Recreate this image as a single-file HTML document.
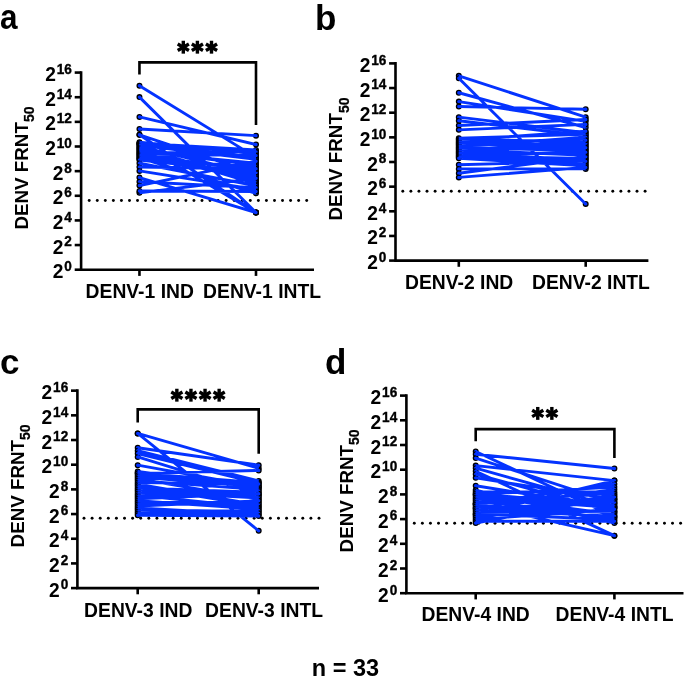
<!DOCTYPE html>
<html><head><meta charset="utf-8"><style>
html,body{margin:0;padding:0;background:#fff;overflow:hidden;width:685px;height:687px;}
svg{display:block;will-change:transform;}
text{font-family:"Liberation Sans", sans-serif;fill:#000;}
</style></head><body>
<svg width="685" height="687" viewBox="0 0 685 687">
<rect width="685" height="687" fill="#fff"/>
<text transform="translate(0,29.3) scale(0.9,1)" font-size="35" font-weight="bold">a</text>
<path d="M81.10 71.28 V269.70 H314.00" fill="none" stroke="#000" stroke-width="2.6"/>
<line x1="74.70" x2="81.10" y1="269.70" y2="269.70" stroke="#000" stroke-width="2.6"/>
<text transform="translate(71.90,278.20) scale(1,1.045)" text-anchor="end" font-size="19.2" font-weight="bold">2<tspan font-size="13.6" dx="0.9" dy="-6.8" stroke="#000" stroke-width="0.35">0</tspan></text>
<line x1="74.70" x2="81.10" y1="245.06" y2="245.06" stroke="#000" stroke-width="2.6"/>
<text transform="translate(71.90,253.56) scale(1,1.045)" text-anchor="end" font-size="19.2" font-weight="bold">2<tspan font-size="13.6" dx="0.9" dy="-6.8" stroke="#000" stroke-width="0.35">2</tspan></text>
<line x1="74.70" x2="81.10" y1="220.42" y2="220.42" stroke="#000" stroke-width="2.6"/>
<text transform="translate(71.90,228.92) scale(1,1.045)" text-anchor="end" font-size="19.2" font-weight="bold">2<tspan font-size="13.6" dx="0.9" dy="-6.8" stroke="#000" stroke-width="0.35">4</tspan></text>
<line x1="74.70" x2="81.10" y1="195.78" y2="195.78" stroke="#000" stroke-width="2.6"/>
<text transform="translate(71.90,204.28) scale(1,1.045)" text-anchor="end" font-size="19.2" font-weight="bold">2<tspan font-size="13.6" dx="0.9" dy="-6.8" stroke="#000" stroke-width="0.35">6</tspan></text>
<line x1="74.70" x2="81.10" y1="171.14" y2="171.14" stroke="#000" stroke-width="2.6"/>
<text transform="translate(71.90,179.64) scale(1,1.045)" text-anchor="end" font-size="19.2" font-weight="bold">2<tspan font-size="13.6" dx="0.9" dy="-6.8" stroke="#000" stroke-width="0.35">8</tspan></text>
<line x1="74.70" x2="81.10" y1="146.50" y2="146.50" stroke="#000" stroke-width="2.6"/>
<text transform="translate(71.90,155.00) scale(1,1.045)" text-anchor="end" font-size="19.2" font-weight="bold">2<tspan font-size="13.6" dx="0.9" dy="-6.8" stroke="#000" stroke-width="0.35">10</tspan></text>
<line x1="74.70" x2="81.10" y1="121.86" y2="121.86" stroke="#000" stroke-width="2.6"/>
<text transform="translate(71.90,130.36) scale(1,1.045)" text-anchor="end" font-size="19.2" font-weight="bold">2<tspan font-size="13.6" dx="0.9" dy="-6.8" stroke="#000" stroke-width="0.35">12</tspan></text>
<line x1="74.70" x2="81.10" y1="97.22" y2="97.22" stroke="#000" stroke-width="2.6"/>
<text transform="translate(71.90,105.72) scale(1,1.045)" text-anchor="end" font-size="19.2" font-weight="bold">2<tspan font-size="13.6" dx="0.9" dy="-6.8" stroke="#000" stroke-width="0.35">14</tspan></text>
<line x1="74.70" x2="81.10" y1="72.58" y2="72.58" stroke="#000" stroke-width="2.6"/>
<text transform="translate(71.90,81.08) scale(1,1.045)" text-anchor="end" font-size="19.2" font-weight="bold">2<tspan font-size="13.6" dx="0.9" dy="-6.8" stroke="#000" stroke-width="0.35">16</tspan></text>
<line x1="139.45" x2="139.45" y1="269.70" y2="275.90" stroke="#000" stroke-width="2.6"/>
<line x1="256.00" x2="256.00" y1="269.70" y2="275.90" stroke="#000" stroke-width="2.6"/>
<text transform="translate(85.60,298.10) scale(1,1.06)" font-size="19.3" font-weight="bold">DENV-1 IND</text>
<text transform="translate(203.10,298.10) scale(1,1.06)" font-size="19.3" font-weight="bold">DENV-1 INTL</text>
<text transform="translate(27.6,229.6) rotate(-90)" font-size="18.8" font-weight="bold">DENV FRNT<tspan font-size="14" dy="6.6" stroke="#000" stroke-width="0.3">50</tspan></text>
<circle cx="89.20" cy="200.50" r="1.45"/><circle cx="97.26" cy="200.50" r="1.45"/><circle cx="105.31" cy="200.50" r="1.45"/><circle cx="113.37" cy="200.50" r="1.45"/><circle cx="121.42" cy="200.50" r="1.45"/><circle cx="129.48" cy="200.50" r="1.45"/><circle cx="137.53" cy="200.50" r="1.45"/><circle cx="145.59" cy="200.50" r="1.45"/><circle cx="153.64" cy="200.50" r="1.45"/><circle cx="161.70" cy="200.50" r="1.45"/><circle cx="169.76" cy="200.50" r="1.45"/><circle cx="177.81" cy="200.50" r="1.45"/><circle cx="185.87" cy="200.50" r="1.45"/><circle cx="193.92" cy="200.50" r="1.45"/><circle cx="201.98" cy="200.50" r="1.45"/><circle cx="210.03" cy="200.50" r="1.45"/><circle cx="218.09" cy="200.50" r="1.45"/><circle cx="226.14" cy="200.50" r="1.45"/><circle cx="234.20" cy="200.50" r="1.45"/><circle cx="242.26" cy="200.50" r="1.45"/><circle cx="250.31" cy="200.50" r="1.45"/><circle cx="258.37" cy="200.50" r="1.45"/><circle cx="266.42" cy="200.50" r="1.45"/><circle cx="274.48" cy="200.50" r="1.45"/><circle cx="282.53" cy="200.50" r="1.45"/><circle cx="290.59" cy="200.50" r="1.45"/><circle cx="298.64" cy="200.50" r="1.45"/><circle cx="306.70" cy="200.50" r="1.45"/>
<path d="M139.45 74.60 V62.40 H256.00 V125.00" fill="none" stroke="#000" stroke-width="2.6"/>
<rect x="181.60" y="40.75" width="3.4" height="12.9" transform="rotate(0 183.30 47.20)"/><rect x="181.60" y="40.75" width="3.4" height="12.9" transform="rotate(60 183.30 47.20)"/><rect x="181.60" y="40.75" width="3.4" height="12.9" transform="rotate(120 183.30 47.20)"/>
<rect x="195.70" y="40.75" width="3.4" height="12.9" transform="rotate(0 197.40 47.20)"/><rect x="195.70" y="40.75" width="3.4" height="12.9" transform="rotate(60 197.40 47.20)"/><rect x="195.70" y="40.75" width="3.4" height="12.9" transform="rotate(120 197.40 47.20)"/>
<rect x="209.80" y="40.75" width="3.4" height="12.9" transform="rotate(0 211.50 47.20)"/><rect x="209.80" y="40.75" width="3.4" height="12.9" transform="rotate(60 211.50 47.20)"/><rect x="209.80" y="40.75" width="3.4" height="12.9" transform="rotate(120 211.50 47.20)"/>
<g fill="#0433ff" stroke="#000" stroke-width="1.3"><circle cx="139.45" cy="85.64" r="2.35"/><circle cx="256.00" cy="157.34" r="2.35"/><circle cx="139.45" cy="97.10" r="2.35"/><circle cx="256.00" cy="212.54" r="2.35"/><circle cx="139.45" cy="116.93" r="2.35"/><circle cx="256.00" cy="144.53" r="2.35"/><circle cx="139.45" cy="129.01" r="2.35"/><circle cx="256.00" cy="135.66" r="2.35"/><circle cx="139.45" cy="134.80" r="2.35"/><circle cx="256.00" cy="212.54" r="2.35"/><circle cx="139.45" cy="143.67" r="2.35"/><circle cx="256.00" cy="212.54" r="2.35"/><circle cx="139.45" cy="177.55" r="2.35"/><circle cx="256.00" cy="212.54" r="2.35"/><circle cx="139.45" cy="192.82" r="2.35"/><circle cx="256.00" cy="178.53" r="2.35"/><circle cx="139.45" cy="134.80" r="2.35"/><circle cx="256.00" cy="173.60" r="2.35"/><circle cx="139.45" cy="142.19" r="2.35"/><circle cx="256.00" cy="153.72" r="2.35"/><circle cx="139.45" cy="143.24" r="2.35"/><circle cx="256.00" cy="149.95" r="2.35"/><circle cx="139.45" cy="144.29" r="2.35"/><circle cx="256.00" cy="157.49" r="2.35"/><circle cx="139.45" cy="145.34" r="2.35"/><circle cx="256.00" cy="159.37" r="2.35"/><circle cx="139.45" cy="146.39" r="2.35"/><circle cx="256.00" cy="174.47" r="2.35"/><circle cx="139.45" cy="147.44" r="2.35"/><circle cx="256.00" cy="182.01" r="2.35"/><circle cx="139.45" cy="148.50" r="2.35"/><circle cx="256.00" cy="183.89" r="2.35"/><circle cx="139.45" cy="149.54" r="2.35"/><circle cx="256.00" cy="180.12" r="2.35"/><circle cx="139.45" cy="150.59" r="2.35"/><circle cx="256.00" cy="165.03" r="2.35"/><circle cx="139.45" cy="151.65" r="2.35"/><circle cx="256.00" cy="163.14" r="2.35"/><circle cx="139.45" cy="152.70" r="2.35"/><circle cx="256.00" cy="151.83" r="2.35"/><circle cx="139.45" cy="153.74" r="2.35"/><circle cx="256.00" cy="155.60" r="2.35"/><circle cx="139.45" cy="154.80" r="2.35"/><circle cx="256.00" cy="170.68" r="2.35"/><circle cx="139.45" cy="155.85" r="2.35"/><circle cx="256.00" cy="176.35" r="2.35"/><circle cx="139.45" cy="156.90" r="2.35"/><circle cx="256.00" cy="178.24" r="2.35"/><circle cx="139.45" cy="157.95" r="2.35"/><circle cx="256.00" cy="193.32" r="2.35"/><circle cx="139.45" cy="159.00" r="2.35"/><circle cx="256.00" cy="166.91" r="2.35"/><circle cx="139.45" cy="160.05" r="2.35"/><circle cx="256.00" cy="172.58" r="2.35"/><circle cx="139.45" cy="163.26" r="2.35"/><circle cx="256.00" cy="185.78" r="2.35"/><circle cx="139.45" cy="167.07" r="2.35"/><circle cx="256.00" cy="168.80" r="2.35"/><circle cx="139.45" cy="170.89" r="2.35"/><circle cx="256.00" cy="189.55" r="2.35"/><circle cx="139.45" cy="181.74" r="2.35"/><circle cx="256.00" cy="187.66" r="2.35"/><circle cx="139.45" cy="185.55" r="2.35"/><circle cx="256.00" cy="161.26" r="2.35"/><circle cx="139.45" cy="190.98" r="2.35"/><circle cx="256.00" cy="191.43" r="2.35"/></g>
<path d="M139.45 85.64L256.00 157.34M139.45 97.10L256.00 212.54M139.45 116.93L256.00 144.53M139.45 129.01L256.00 135.66M139.45 134.80L256.00 212.54M139.45 143.67L256.00 212.54M139.45 177.55L256.00 212.54M139.45 192.82L256.00 178.53M139.45 134.80L256.00 173.60M139.45 142.19L256.00 153.72M139.45 143.24L256.00 149.95M139.45 144.29L256.00 157.49M139.45 145.34L256.00 159.37M139.45 146.39L256.00 174.47M139.45 147.44L256.00 182.01M139.45 148.50L256.00 183.89M139.45 149.54L256.00 180.12M139.45 150.59L256.00 165.03M139.45 151.65L256.00 163.14M139.45 152.70L256.00 151.83M139.45 153.74L256.00 155.60M139.45 154.80L256.00 170.68M139.45 155.85L256.00 176.35M139.45 156.90L256.00 178.24M139.45 157.95L256.00 193.32M139.45 159.00L256.00 166.91M139.45 160.05L256.00 172.58M139.45 163.26L256.00 185.78M139.45 167.07L256.00 168.80M139.45 170.89L256.00 189.55M139.45 181.74L256.00 187.66M139.45 185.55L256.00 161.26M139.45 190.98L256.00 191.43" stroke="#0433ff" stroke-width="2.9" fill="none"/>
<text transform="translate(315,29.6) scale(1.0,1)" font-size="35" font-weight="bold">b</text>
<path d="M395.50 62.10 V260.60 H648.40" fill="none" stroke="#000" stroke-width="2.6"/>
<line x1="389.10" x2="395.50" y1="260.60" y2="260.60" stroke="#000" stroke-width="2.6"/>
<text transform="translate(386.30,269.10) scale(1,1.045)" text-anchor="end" font-size="19.2" font-weight="bold">2<tspan font-size="13.6" dx="0.9" dy="-6.8" stroke="#000" stroke-width="0.35">0</tspan></text>
<line x1="389.10" x2="395.50" y1="235.95" y2="235.95" stroke="#000" stroke-width="2.6"/>
<text transform="translate(386.30,244.45) scale(1,1.045)" text-anchor="end" font-size="19.2" font-weight="bold">2<tspan font-size="13.6" dx="0.9" dy="-6.8" stroke="#000" stroke-width="0.35">2</tspan></text>
<line x1="389.10" x2="395.50" y1="211.30" y2="211.30" stroke="#000" stroke-width="2.6"/>
<text transform="translate(386.30,219.80) scale(1,1.045)" text-anchor="end" font-size="19.2" font-weight="bold">2<tspan font-size="13.6" dx="0.9" dy="-6.8" stroke="#000" stroke-width="0.35">4</tspan></text>
<line x1="389.10" x2="395.50" y1="186.65" y2="186.65" stroke="#000" stroke-width="2.6"/>
<text transform="translate(386.30,195.15) scale(1,1.045)" text-anchor="end" font-size="19.2" font-weight="bold">2<tspan font-size="13.6" dx="0.9" dy="-6.8" stroke="#000" stroke-width="0.35">6</tspan></text>
<line x1="389.10" x2="395.50" y1="162.00" y2="162.00" stroke="#000" stroke-width="2.6"/>
<text transform="translate(386.30,170.50) scale(1,1.045)" text-anchor="end" font-size="19.2" font-weight="bold">2<tspan font-size="13.6" dx="0.9" dy="-6.8" stroke="#000" stroke-width="0.35">8</tspan></text>
<line x1="389.10" x2="395.50" y1="137.35" y2="137.35" stroke="#000" stroke-width="2.6"/>
<text transform="translate(386.30,145.85) scale(1,1.045)" text-anchor="end" font-size="19.2" font-weight="bold">2<tspan font-size="13.6" dx="0.9" dy="-6.8" stroke="#000" stroke-width="0.35">10</tspan></text>
<line x1="389.10" x2="395.50" y1="112.70" y2="112.70" stroke="#000" stroke-width="2.6"/>
<text transform="translate(386.30,121.20) scale(1,1.045)" text-anchor="end" font-size="19.2" font-weight="bold">2<tspan font-size="13.6" dx="0.9" dy="-6.8" stroke="#000" stroke-width="0.35">12</tspan></text>
<line x1="389.10" x2="395.50" y1="88.05" y2="88.05" stroke="#000" stroke-width="2.6"/>
<text transform="translate(386.30,96.55) scale(1,1.045)" text-anchor="end" font-size="19.2" font-weight="bold">2<tspan font-size="13.6" dx="0.9" dy="-6.8" stroke="#000" stroke-width="0.35">14</tspan></text>
<line x1="389.10" x2="395.50" y1="63.40" y2="63.40" stroke="#000" stroke-width="2.6"/>
<text transform="translate(386.30,71.90) scale(1,1.045)" text-anchor="end" font-size="19.2" font-weight="bold">2<tspan font-size="13.6" dx="0.9" dy="-6.8" stroke="#000" stroke-width="0.35">16</tspan></text>
<line x1="458.80" x2="458.80" y1="260.60" y2="266.80" stroke="#000" stroke-width="2.6"/>
<line x1="585.70" x2="585.70" y1="260.60" y2="266.80" stroke="#000" stroke-width="2.6"/>
<text transform="translate(405.00,288.70) scale(1,1.06)" font-size="19.3" font-weight="bold">DENV-2 IND</text>
<text transform="translate(532.00,288.70) scale(1,1.06)" font-size="19.3" font-weight="bold">DENV-2 INTL</text>
<text transform="translate(341.9,220.6) rotate(-90)" font-size="18.8" font-weight="bold">DENV FRNT<tspan font-size="14" dy="6.6" stroke="#000" stroke-width="0.3">50</tspan></text>
<circle cx="402.80" cy="191.30" r="1.45"/><circle cx="410.88" cy="191.30" r="1.45"/><circle cx="418.95" cy="191.30" r="1.45"/><circle cx="427.03" cy="191.30" r="1.45"/><circle cx="435.11" cy="191.30" r="1.45"/><circle cx="443.18" cy="191.30" r="1.45"/><circle cx="451.26" cy="191.30" r="1.45"/><circle cx="459.34" cy="191.30" r="1.45"/><circle cx="467.41" cy="191.30" r="1.45"/><circle cx="475.49" cy="191.30" r="1.45"/><circle cx="483.57" cy="191.30" r="1.45"/><circle cx="491.64" cy="191.30" r="1.45"/><circle cx="499.72" cy="191.30" r="1.45"/><circle cx="507.80" cy="191.30" r="1.45"/><circle cx="515.87" cy="191.30" r="1.45"/><circle cx="523.95" cy="191.30" r="1.45"/><circle cx="532.03" cy="191.30" r="1.45"/><circle cx="540.10" cy="191.30" r="1.45"/><circle cx="548.18" cy="191.30" r="1.45"/><circle cx="556.26" cy="191.30" r="1.45"/><circle cx="564.33" cy="191.30" r="1.45"/><circle cx="572.41" cy="191.30" r="1.45"/><circle cx="580.49" cy="191.30" r="1.45"/><circle cx="588.56" cy="191.30" r="1.45"/><circle cx="596.64" cy="191.30" r="1.45"/><circle cx="604.72" cy="191.30" r="1.45"/><circle cx="612.79" cy="191.30" r="1.45"/><circle cx="620.87" cy="191.30" r="1.45"/><circle cx="628.95" cy="191.30" r="1.45"/><circle cx="637.02" cy="191.30" r="1.45"/><circle cx="645.10" cy="191.30" r="1.45"/>
<g fill="#0433ff" stroke="#000" stroke-width="1.3"><circle cx="458.80" cy="75.85" r="2.35"/><circle cx="585.70" cy="117.14" r="2.35"/><circle cx="458.80" cy="78.31" r="2.35"/><circle cx="585.70" cy="203.91" r="2.35"/><circle cx="458.80" cy="92.73" r="2.35"/><circle cx="585.70" cy="127.49" r="2.35"/><circle cx="458.80" cy="101.61" r="2.35"/><circle cx="585.70" cy="121.33" r="2.35"/><circle cx="458.80" cy="106.54" r="2.35"/><circle cx="585.70" cy="109.25" r="2.35"/><circle cx="458.80" cy="117.14" r="2.35"/><circle cx="585.70" cy="132.69" r="2.35"/><circle cx="458.80" cy="120.71" r="2.35"/><circle cx="585.70" cy="135.71" r="2.35"/><circle cx="458.80" cy="125.52" r="2.35"/><circle cx="585.70" cy="119.48" r="2.35"/><circle cx="458.80" cy="129.83" r="2.35"/><circle cx="585.70" cy="124.41" r="2.35"/><circle cx="458.80" cy="138.21" r="2.35"/><circle cx="585.70" cy="134.21" r="2.35"/><circle cx="458.80" cy="139.27" r="2.35"/><circle cx="585.70" cy="141.75" r="2.35"/><circle cx="458.80" cy="140.33" r="2.35"/><circle cx="585.70" cy="131.19" r="2.35"/><circle cx="458.80" cy="141.38" r="2.35"/><circle cx="585.70" cy="149.29" r="2.35"/><circle cx="458.80" cy="142.44" r="2.35"/><circle cx="585.70" cy="146.27" r="2.35"/><circle cx="458.80" cy="143.50" r="2.35"/><circle cx="585.70" cy="138.73" r="2.35"/><circle cx="458.80" cy="144.56" r="2.35"/><circle cx="585.70" cy="144.77" r="2.35"/><circle cx="458.80" cy="145.62" r="2.35"/><circle cx="585.70" cy="143.25" r="2.35"/><circle cx="458.80" cy="146.67" r="2.35"/><circle cx="585.70" cy="137.23" r="2.35"/><circle cx="458.80" cy="147.73" r="2.35"/><circle cx="585.70" cy="150.80" r="2.35"/><circle cx="458.80" cy="148.79" r="2.35"/><circle cx="585.70" cy="147.78" r="2.35"/><circle cx="458.80" cy="149.85" r="2.35"/><circle cx="585.70" cy="155.32" r="2.35"/><circle cx="458.80" cy="150.90" r="2.35"/><circle cx="585.70" cy="140.23" r="2.35"/><circle cx="458.80" cy="151.96" r="2.35"/><circle cx="585.70" cy="153.82" r="2.35"/><circle cx="458.80" cy="153.02" r="2.35"/><circle cx="585.70" cy="159.86" r="2.35"/><circle cx="458.80" cy="154.08" r="2.35"/><circle cx="585.70" cy="162.86" r="2.35"/><circle cx="458.80" cy="155.13" r="2.35"/><circle cx="585.70" cy="152.31" r="2.35"/><circle cx="458.80" cy="156.18" r="2.35"/><circle cx="585.70" cy="158.34" r="2.35"/><circle cx="458.80" cy="157.24" r="2.35"/><circle cx="585.70" cy="164.38" r="2.35"/><circle cx="458.80" cy="158.30" r="2.35"/><circle cx="585.70" cy="165.88" r="2.35"/><circle cx="458.80" cy="164.71" r="2.35"/><circle cx="585.70" cy="161.36" r="2.35"/><circle cx="458.80" cy="168.90" r="2.35"/><circle cx="585.70" cy="168.90" r="2.35"/><circle cx="458.80" cy="173.22" r="2.35"/><circle cx="585.70" cy="156.84" r="2.35"/><circle cx="458.80" cy="177.41" r="2.35"/><circle cx="585.70" cy="167.40" r="2.35"/></g>
<path d="M458.80 75.85L585.70 117.14M458.80 78.31L585.70 203.91M458.80 92.73L585.70 127.49M458.80 101.61L585.70 121.33M458.80 106.54L585.70 109.25M458.80 117.14L585.70 132.69M458.80 120.71L585.70 135.71M458.80 125.52L585.70 119.48M458.80 129.83L585.70 124.41M458.80 138.21L585.70 134.21M458.80 139.27L585.70 141.75M458.80 140.33L585.70 131.19M458.80 141.38L585.70 149.29M458.80 142.44L585.70 146.27M458.80 143.50L585.70 138.73M458.80 144.56L585.70 144.77M458.80 145.62L585.70 143.25M458.80 146.67L585.70 137.23M458.80 147.73L585.70 150.80M458.80 148.79L585.70 147.78M458.80 149.85L585.70 155.32M458.80 150.90L585.70 140.23M458.80 151.96L585.70 153.82M458.80 153.02L585.70 159.86M458.80 154.08L585.70 162.86M458.80 155.13L585.70 152.31M458.80 156.18L585.70 158.34M458.80 157.24L585.70 164.38M458.80 158.30L585.70 165.88M458.80 164.71L585.70 161.36M458.80 168.90L585.70 168.90M458.80 173.22L585.70 156.84M458.80 177.41L585.70 167.40" stroke="#0433ff" stroke-width="2.9" fill="none"/>
<text transform="translate(0,374.4) scale(1.0,1)" font-size="35" font-weight="bold">c</text>
<path d="M77.40 389.36 V588.10 H319.00" fill="none" stroke="#000" stroke-width="2.6"/>
<line x1="71.00" x2="77.40" y1="588.10" y2="588.10" stroke="#000" stroke-width="2.6"/>
<text transform="translate(68.20,596.60) scale(1,1.045)" text-anchor="end" font-size="19.2" font-weight="bold">2<tspan font-size="13.6" dx="0.9" dy="-6.8" stroke="#000" stroke-width="0.35">0</tspan></text>
<line x1="71.00" x2="77.40" y1="563.42" y2="563.42" stroke="#000" stroke-width="2.6"/>
<text transform="translate(68.20,571.92) scale(1,1.045)" text-anchor="end" font-size="19.2" font-weight="bold">2<tspan font-size="13.6" dx="0.9" dy="-6.8" stroke="#000" stroke-width="0.35">2</tspan></text>
<line x1="71.00" x2="77.40" y1="538.74" y2="538.74" stroke="#000" stroke-width="2.6"/>
<text transform="translate(68.20,547.24) scale(1,1.045)" text-anchor="end" font-size="19.2" font-weight="bold">2<tspan font-size="13.6" dx="0.9" dy="-6.8" stroke="#000" stroke-width="0.35">4</tspan></text>
<line x1="71.00" x2="77.40" y1="514.06" y2="514.06" stroke="#000" stroke-width="2.6"/>
<text transform="translate(68.20,522.56) scale(1,1.045)" text-anchor="end" font-size="19.2" font-weight="bold">2<tspan font-size="13.6" dx="0.9" dy="-6.8" stroke="#000" stroke-width="0.35">6</tspan></text>
<line x1="71.00" x2="77.40" y1="489.38" y2="489.38" stroke="#000" stroke-width="2.6"/>
<text transform="translate(68.20,497.88) scale(1,1.045)" text-anchor="end" font-size="19.2" font-weight="bold">2<tspan font-size="13.6" dx="0.9" dy="-6.8" stroke="#000" stroke-width="0.35">8</tspan></text>
<line x1="71.00" x2="77.40" y1="464.70" y2="464.70" stroke="#000" stroke-width="2.6"/>
<text transform="translate(68.20,473.20) scale(1,1.045)" text-anchor="end" font-size="19.2" font-weight="bold">2<tspan font-size="13.6" dx="0.9" dy="-6.8" stroke="#000" stroke-width="0.35">10</tspan></text>
<line x1="71.00" x2="77.40" y1="440.02" y2="440.02" stroke="#000" stroke-width="2.6"/>
<text transform="translate(68.20,448.52) scale(1,1.045)" text-anchor="end" font-size="19.2" font-weight="bold">2<tspan font-size="13.6" dx="0.9" dy="-6.8" stroke="#000" stroke-width="0.35">12</tspan></text>
<line x1="71.00" x2="77.40" y1="415.34" y2="415.34" stroke="#000" stroke-width="2.6"/>
<text transform="translate(68.20,423.84) scale(1,1.045)" text-anchor="end" font-size="19.2" font-weight="bold">2<tspan font-size="13.6" dx="0.9" dy="-6.8" stroke="#000" stroke-width="0.35">14</tspan></text>
<line x1="71.00" x2="77.40" y1="390.66" y2="390.66" stroke="#000" stroke-width="2.6"/>
<text transform="translate(68.20,399.16) scale(1,1.045)" text-anchor="end" font-size="19.2" font-weight="bold">2<tspan font-size="13.6" dx="0.9" dy="-6.8" stroke="#000" stroke-width="0.35">16</tspan></text>
<line x1="137.70" x2="137.70" y1="588.10" y2="594.30" stroke="#000" stroke-width="2.6"/>
<line x1="258.70" x2="258.70" y1="588.10" y2="594.30" stroke="#000" stroke-width="2.6"/>
<text transform="translate(84.10,616.50) scale(1,1.06)" font-size="19.3" font-weight="bold">DENV-3 IND</text>
<text transform="translate(205.10,616.50) scale(1,1.06)" font-size="19.3" font-weight="bold">DENV-3 INTL</text>
<text transform="translate(23.6,547.4) rotate(-90)" font-size="18.8" font-weight="bold">DENV FRNT<tspan font-size="14" dy="6.6" stroke="#000" stroke-width="0.3">50</tspan></text>
<circle cx="84.00" cy="518.30" r="1.45"/><circle cx="92.10" cy="518.30" r="1.45"/><circle cx="100.21" cy="518.30" r="1.45"/><circle cx="108.31" cy="518.30" r="1.45"/><circle cx="116.41" cy="518.30" r="1.45"/><circle cx="124.52" cy="518.30" r="1.45"/><circle cx="132.62" cy="518.30" r="1.45"/><circle cx="140.72" cy="518.30" r="1.45"/><circle cx="148.83" cy="518.30" r="1.45"/><circle cx="156.93" cy="518.30" r="1.45"/><circle cx="165.03" cy="518.30" r="1.45"/><circle cx="173.14" cy="518.30" r="1.45"/><circle cx="181.24" cy="518.30" r="1.45"/><circle cx="189.34" cy="518.30" r="1.45"/><circle cx="197.45" cy="518.30" r="1.45"/><circle cx="205.55" cy="518.30" r="1.45"/><circle cx="213.66" cy="518.30" r="1.45"/><circle cx="221.76" cy="518.30" r="1.45"/><circle cx="229.86" cy="518.30" r="1.45"/><circle cx="237.97" cy="518.30" r="1.45"/><circle cx="246.07" cy="518.30" r="1.45"/><circle cx="254.17" cy="518.30" r="1.45"/><circle cx="262.28" cy="518.30" r="1.45"/><circle cx="270.38" cy="518.30" r="1.45"/><circle cx="278.48" cy="518.30" r="1.45"/><circle cx="286.59" cy="518.30" r="1.45"/><circle cx="294.69" cy="518.30" r="1.45"/><circle cx="302.79" cy="518.30" r="1.45"/><circle cx="310.90" cy="518.30" r="1.45"/><circle cx="319.00" cy="518.30" r="1.45"/>
<path d="M137.70 422.50 V409.40 H258.70 V453.70" fill="none" stroke="#000" stroke-width="2.6"/>
<rect x="175.15" y="388.75" width="3.4" height="12.9" transform="rotate(0 176.85 395.20)"/><rect x="175.15" y="388.75" width="3.4" height="12.9" transform="rotate(60 176.85 395.20)"/><rect x="175.15" y="388.75" width="3.4" height="12.9" transform="rotate(120 176.85 395.20)"/>
<rect x="189.25" y="388.75" width="3.4" height="12.9" transform="rotate(0 190.95 395.20)"/><rect x="189.25" y="388.75" width="3.4" height="12.9" transform="rotate(60 190.95 395.20)"/><rect x="189.25" y="388.75" width="3.4" height="12.9" transform="rotate(120 190.95 395.20)"/>
<rect x="203.35" y="388.75" width="3.4" height="12.9" transform="rotate(0 205.05 395.20)"/><rect x="203.35" y="388.75" width="3.4" height="12.9" transform="rotate(60 205.05 395.20)"/><rect x="203.35" y="388.75" width="3.4" height="12.9" transform="rotate(120 205.05 395.20)"/>
<rect x="217.45" y="388.75" width="3.4" height="12.9" transform="rotate(0 219.15 395.20)"/><rect x="217.45" y="388.75" width="3.4" height="12.9" transform="rotate(60 219.15 395.20)"/><rect x="217.45" y="388.75" width="3.4" height="12.9" transform="rotate(120 219.15 395.20)"/>
<g fill="#0433ff" stroke="#000" stroke-width="1.3"><circle cx="137.70" cy="433.48" r="2.35"/><circle cx="258.70" cy="530.84" r="2.35"/><circle cx="137.70" cy="433.48" r="2.35"/><circle cx="258.70" cy="468.28" r="2.35"/><circle cx="137.70" cy="447.79" r="2.35"/><circle cx="258.70" cy="465.19" r="2.35"/><circle cx="137.70" cy="450.63" r="2.35"/><circle cx="258.70" cy="480.99" r="2.35"/><circle cx="137.70" cy="453.47" r="2.35"/><circle cx="258.70" cy="483.21" r="2.35"/><circle cx="137.70" cy="456.93" r="2.35"/><circle cx="258.70" cy="494.32" r="2.35"/><circle cx="137.70" cy="465.19" r="2.35"/><circle cx="258.70" cy="486.91" r="2.35"/><circle cx="137.70" cy="473.34" r="2.35"/><circle cx="258.70" cy="470.50" r="2.35"/><circle cx="137.70" cy="471.49" r="2.35"/><circle cx="258.70" cy="488.17" r="2.35"/><circle cx="137.70" cy="473.31" r="2.35"/><circle cx="258.70" cy="482.59" r="2.35"/><circle cx="137.70" cy="475.14" r="2.35"/><circle cx="258.70" cy="485.38" r="2.35"/><circle cx="137.70" cy="476.97" r="2.35"/><circle cx="258.70" cy="486.78" r="2.35"/><circle cx="137.70" cy="478.79" r="2.35"/><circle cx="258.70" cy="499.31" r="2.35"/><circle cx="137.70" cy="480.62" r="2.35"/><circle cx="258.70" cy="489.57" r="2.35"/><circle cx="137.70" cy="482.44" r="2.35"/><circle cx="258.70" cy="483.99" r="2.35"/><circle cx="137.70" cy="484.26" r="2.35"/><circle cx="258.70" cy="504.89" r="2.35"/><circle cx="137.70" cy="486.09" r="2.35"/><circle cx="258.70" cy="506.29" r="2.35"/><circle cx="137.70" cy="487.91" r="2.35"/><circle cx="258.70" cy="492.34" r="2.35"/><circle cx="137.70" cy="489.74" r="2.35"/><circle cx="258.70" cy="495.13" r="2.35"/><circle cx="137.70" cy="491.56" r="2.35"/><circle cx="258.70" cy="497.92" r="2.35"/><circle cx="137.70" cy="493.39" r="2.35"/><circle cx="258.70" cy="496.52" r="2.35"/><circle cx="137.70" cy="495.22" r="2.35"/><circle cx="258.70" cy="507.67" r="2.35"/><circle cx="137.70" cy="497.04" r="2.35"/><circle cx="258.70" cy="490.95" r="2.35"/><circle cx="137.70" cy="498.87" r="2.35"/><circle cx="258.70" cy="493.74" r="2.35"/><circle cx="137.70" cy="500.70" r="2.35"/><circle cx="258.70" cy="509.06" r="2.35"/><circle cx="137.70" cy="502.52" r="2.35"/><circle cx="258.70" cy="502.10" r="2.35"/><circle cx="137.70" cy="504.35" r="2.35"/><circle cx="258.70" cy="503.50" r="2.35"/><circle cx="137.70" cy="506.16" r="2.35"/><circle cx="258.70" cy="500.71" r="2.35"/><circle cx="137.70" cy="507.99" r="2.35"/><circle cx="258.70" cy="514.64" r="2.35"/><circle cx="137.70" cy="509.82" r="2.35"/><circle cx="258.70" cy="511.85" r="2.35"/><circle cx="137.70" cy="511.64" r="2.35"/><circle cx="258.70" cy="510.46" r="2.35"/><circle cx="137.70" cy="513.47" r="2.35"/><circle cx="258.70" cy="513.25" r="2.35"/><circle cx="137.70" cy="515.29" r="2.35"/><circle cx="258.70" cy="516.03" r="2.35"/></g>
<path d="M137.70 433.48L258.70 530.84M137.70 433.48L258.70 468.28M137.70 447.79L258.70 465.19M137.70 450.63L258.70 480.99M137.70 453.47L258.70 483.21M137.70 456.93L258.70 494.32M137.70 465.19L258.70 486.91M137.70 473.34L258.70 470.50M137.70 471.49L258.70 488.17M137.70 473.31L258.70 482.59M137.70 475.14L258.70 485.38M137.70 476.97L258.70 486.78M137.70 478.79L258.70 499.31M137.70 480.62L258.70 489.57M137.70 482.44L258.70 483.99M137.70 484.26L258.70 504.89M137.70 486.09L258.70 506.29M137.70 487.91L258.70 492.34M137.70 489.74L258.70 495.13M137.70 491.56L258.70 497.92M137.70 493.39L258.70 496.52M137.70 495.22L258.70 507.67M137.70 497.04L258.70 490.95M137.70 498.87L258.70 493.74M137.70 500.70L258.70 509.06M137.70 502.52L258.70 502.10M137.70 504.35L258.70 503.50M137.70 506.16L258.70 500.71M137.70 507.99L258.70 514.64M137.70 509.82L258.70 511.85M137.70 511.64L258.70 510.46M137.70 513.47L258.70 513.25M137.70 515.29L258.70 516.03" stroke="#0433ff" stroke-width="2.9" fill="none"/>
<text transform="translate(325,374.4) scale(1.0,1)" font-size="35" font-weight="bold">d</text>
<path d="M406.40 394.30 V593.20 H683.50" fill="none" stroke="#000" stroke-width="2.6"/>
<line x1="400.00" x2="406.40" y1="593.20" y2="593.20" stroke="#000" stroke-width="2.6"/>
<text transform="translate(397.20,601.70) scale(1,1.045)" text-anchor="end" font-size="19.2" font-weight="bold">2<tspan font-size="13.6" dx="0.9" dy="-6.8" stroke="#000" stroke-width="0.35">0</tspan></text>
<line x1="400.00" x2="406.40" y1="568.50" y2="568.50" stroke="#000" stroke-width="2.6"/>
<text transform="translate(397.20,577.00) scale(1,1.045)" text-anchor="end" font-size="19.2" font-weight="bold">2<tspan font-size="13.6" dx="0.9" dy="-6.8" stroke="#000" stroke-width="0.35">2</tspan></text>
<line x1="400.00" x2="406.40" y1="543.80" y2="543.80" stroke="#000" stroke-width="2.6"/>
<text transform="translate(397.20,552.30) scale(1,1.045)" text-anchor="end" font-size="19.2" font-weight="bold">2<tspan font-size="13.6" dx="0.9" dy="-6.8" stroke="#000" stroke-width="0.35">4</tspan></text>
<line x1="400.00" x2="406.40" y1="519.10" y2="519.10" stroke="#000" stroke-width="2.6"/>
<text transform="translate(397.20,527.60) scale(1,1.045)" text-anchor="end" font-size="19.2" font-weight="bold">2<tspan font-size="13.6" dx="0.9" dy="-6.8" stroke="#000" stroke-width="0.35">6</tspan></text>
<line x1="400.00" x2="406.40" y1="494.40" y2="494.40" stroke="#000" stroke-width="2.6"/>
<text transform="translate(397.20,502.90) scale(1,1.045)" text-anchor="end" font-size="19.2" font-weight="bold">2<tspan font-size="13.6" dx="0.9" dy="-6.8" stroke="#000" stroke-width="0.35">8</tspan></text>
<line x1="400.00" x2="406.40" y1="469.70" y2="469.70" stroke="#000" stroke-width="2.6"/>
<text transform="translate(397.20,478.20) scale(1,1.045)" text-anchor="end" font-size="19.2" font-weight="bold">2<tspan font-size="13.6" dx="0.9" dy="-6.8" stroke="#000" stroke-width="0.35">10</tspan></text>
<line x1="400.00" x2="406.40" y1="445.00" y2="445.00" stroke="#000" stroke-width="2.6"/>
<text transform="translate(397.20,453.50) scale(1,1.045)" text-anchor="end" font-size="19.2" font-weight="bold">2<tspan font-size="13.6" dx="0.9" dy="-6.8" stroke="#000" stroke-width="0.35">12</tspan></text>
<line x1="400.00" x2="406.40" y1="420.30" y2="420.30" stroke="#000" stroke-width="2.6"/>
<text transform="translate(397.20,428.80) scale(1,1.045)" text-anchor="end" font-size="19.2" font-weight="bold">2<tspan font-size="13.6" dx="0.9" dy="-6.8" stroke="#000" stroke-width="0.35">14</tspan></text>
<line x1="400.00" x2="406.40" y1="395.60" y2="395.60" stroke="#000" stroke-width="2.6"/>
<text transform="translate(397.20,404.10) scale(1,1.045)" text-anchor="end" font-size="19.2" font-weight="bold">2<tspan font-size="13.6" dx="0.9" dy="-6.8" stroke="#000" stroke-width="0.35">16</tspan></text>
<line x1="475.70" x2="475.70" y1="593.20" y2="599.40" stroke="#000" stroke-width="2.6"/>
<line x1="614.40" x2="614.40" y1="593.20" y2="599.40" stroke="#000" stroke-width="2.6"/>
<text transform="translate(421.50,621.30) scale(1,1.06)" font-size="19.3" font-weight="bold">DENV-4 IND</text>
<text transform="translate(555.60,621.30) scale(1,1.06)" font-size="19.3" font-weight="bold">DENV-4 INTL</text>
<text transform="translate(352.5,552.4) rotate(-90)" font-size="18.8" font-weight="bold">DENV FRNT<tspan font-size="14" dy="6.6" stroke="#000" stroke-width="0.3">50</tspan></text>
<circle cx="414.30" cy="523.30" r="1.45"/><circle cx="422.37" cy="523.30" r="1.45"/><circle cx="430.44" cy="523.30" r="1.45"/><circle cx="438.51" cy="523.30" r="1.45"/><circle cx="446.58" cy="523.30" r="1.45"/><circle cx="454.65" cy="523.30" r="1.45"/><circle cx="462.72" cy="523.30" r="1.45"/><circle cx="470.79" cy="523.30" r="1.45"/><circle cx="478.86" cy="523.30" r="1.45"/><circle cx="486.93" cy="523.30" r="1.45"/><circle cx="495.00" cy="523.30" r="1.45"/><circle cx="503.07" cy="523.30" r="1.45"/><circle cx="511.14" cy="523.30" r="1.45"/><circle cx="519.21" cy="523.30" r="1.45"/><circle cx="527.28" cy="523.30" r="1.45"/><circle cx="535.35" cy="523.30" r="1.45"/><circle cx="543.42" cy="523.30" r="1.45"/><circle cx="551.48" cy="523.30" r="1.45"/><circle cx="559.55" cy="523.30" r="1.45"/><circle cx="567.62" cy="523.30" r="1.45"/><circle cx="575.69" cy="523.30" r="1.45"/><circle cx="583.76" cy="523.30" r="1.45"/><circle cx="591.83" cy="523.30" r="1.45"/><circle cx="599.90" cy="523.30" r="1.45"/><circle cx="607.97" cy="523.30" r="1.45"/><circle cx="616.04" cy="523.30" r="1.45"/><circle cx="624.11" cy="523.30" r="1.45"/><circle cx="632.18" cy="523.30" r="1.45"/><circle cx="640.25" cy="523.30" r="1.45"/><circle cx="648.32" cy="523.30" r="1.45"/><circle cx="656.39" cy="523.30" r="1.45"/><circle cx="664.46" cy="523.30" r="1.45"/><circle cx="672.53" cy="523.30" r="1.45"/><circle cx="680.60" cy="523.30" r="1.45"/>
<path d="M475.70 441.30 V429.10 H614.40 V458.10" fill="none" stroke="#000" stroke-width="2.6"/>
<rect x="536.05" y="406.95" width="3.4" height="12.9" transform="rotate(0 537.75 413.40)"/><rect x="536.05" y="406.95" width="3.4" height="12.9" transform="rotate(60 537.75 413.40)"/><rect x="536.05" y="406.95" width="3.4" height="12.9" transform="rotate(120 537.75 413.40)"/>
<rect x="550.15" y="406.95" width="3.4" height="12.9" transform="rotate(0 551.85 413.40)"/><rect x="550.15" y="406.95" width="3.4" height="12.9" transform="rotate(60 551.85 413.40)"/><rect x="550.15" y="406.95" width="3.4" height="12.9" transform="rotate(120 551.85 413.40)"/>
<g fill="#0433ff" stroke="#000" stroke-width="1.3"><circle cx="475.70" cy="451.55" r="2.35"/><circle cx="614.40" cy="516.63" r="2.35"/><circle cx="475.70" cy="454.26" r="2.35"/><circle cx="614.40" cy="468.47" r="2.35"/><circle cx="475.70" cy="458.09" r="2.35"/><circle cx="614.40" cy="503.05" r="2.35"/><circle cx="475.70" cy="465.62" r="2.35"/><circle cx="614.40" cy="480.57" r="2.35"/><circle cx="475.70" cy="468.22" r="2.35"/><circle cx="614.40" cy="506.75" r="2.35"/><circle cx="475.70" cy="471.31" r="2.35"/><circle cx="614.40" cy="535.65" r="2.35"/><circle cx="475.70" cy="474.27" r="2.35"/><circle cx="614.40" cy="511.69" r="2.35"/><circle cx="475.70" cy="477.85" r="2.35"/><circle cx="614.40" cy="499.34" r="2.35"/><circle cx="475.70" cy="485.76" r="2.35"/><circle cx="614.40" cy="507.99" r="2.35"/><circle cx="475.70" cy="503.79" r="2.35"/><circle cx="614.40" cy="535.65" r="2.35"/><circle cx="475.70" cy="514.16" r="2.35"/><circle cx="614.40" cy="480.57" r="2.35"/><circle cx="475.70" cy="504.28" r="2.35"/><circle cx="614.40" cy="483.90" r="2.35"/><circle cx="475.70" cy="494.40" r="2.35"/><circle cx="614.40" cy="486.99" r="2.35"/><circle cx="475.70" cy="507.99" r="2.35"/><circle cx="614.40" cy="489.46" r="2.35"/><circle cx="475.70" cy="490.08" r="2.35"/><circle cx="614.40" cy="523.05" r="2.35"/><circle cx="475.70" cy="491.91" r="2.35"/><circle cx="614.40" cy="491.93" r="2.35"/><circle cx="475.70" cy="493.75" r="2.35"/><circle cx="614.40" cy="505.76" r="2.35"/><circle cx="475.70" cy="495.57" r="2.35"/><circle cx="614.40" cy="514.41" r="2.35"/><circle cx="475.70" cy="497.40" r="2.35"/><circle cx="614.40" cy="507.49" r="2.35"/><circle cx="475.70" cy="499.24" r="2.35"/><circle cx="614.40" cy="504.03" r="2.35"/><circle cx="475.70" cy="501.07" r="2.35"/><circle cx="614.40" cy="493.66" r="2.35"/><circle cx="475.70" cy="502.90" r="2.35"/><circle cx="614.40" cy="500.58" r="2.35"/><circle cx="475.70" cy="504.74" r="2.35"/><circle cx="614.40" cy="517.87" r="2.35"/><circle cx="475.70" cy="506.56" r="2.35"/><circle cx="614.40" cy="512.68" r="2.35"/><circle cx="475.70" cy="508.39" r="2.35"/><circle cx="614.40" cy="502.30" r="2.35"/><circle cx="475.70" cy="510.23" r="2.35"/><circle cx="614.40" cy="516.14" r="2.35"/><circle cx="475.70" cy="512.06" r="2.35"/><circle cx="614.40" cy="510.95" r="2.35"/><circle cx="475.70" cy="513.89" r="2.35"/><circle cx="614.40" cy="519.59" r="2.35"/><circle cx="475.70" cy="515.73" r="2.35"/><circle cx="614.40" cy="495.39" r="2.35"/><circle cx="475.70" cy="517.56" r="2.35"/><circle cx="614.40" cy="498.85" r="2.35"/><circle cx="475.70" cy="519.38" r="2.35"/><circle cx="614.40" cy="509.22" r="2.35"/><circle cx="475.70" cy="521.22" r="2.35"/><circle cx="614.40" cy="521.32" r="2.35"/><circle cx="475.70" cy="523.05" r="2.35"/><circle cx="614.40" cy="497.12" r="2.35"/></g>
<path d="M475.70 451.55L614.40 516.63M475.70 454.26L614.40 468.47M475.70 458.09L614.40 503.05M475.70 465.62L614.40 480.57M475.70 468.22L614.40 506.75M475.70 471.31L614.40 535.65M475.70 474.27L614.40 511.69M475.70 477.85L614.40 499.34M475.70 485.76L614.40 507.99M475.70 503.79L614.40 535.65M475.70 514.16L614.40 480.57M475.70 504.28L614.40 483.90M475.70 494.40L614.40 486.99M475.70 507.99L614.40 489.46M475.70 490.08L614.40 523.05M475.70 491.91L614.40 491.93M475.70 493.75L614.40 505.76M475.70 495.57L614.40 514.41M475.70 497.40L614.40 507.49M475.70 499.24L614.40 504.03M475.70 501.07L614.40 493.66M475.70 502.90L614.40 500.58M475.70 504.74L614.40 517.87M475.70 506.56L614.40 512.68M475.70 508.39L614.40 502.30M475.70 510.23L614.40 516.14M475.70 512.06L614.40 510.95M475.70 513.89L614.40 519.59M475.70 515.73L614.40 495.39M475.70 517.56L614.40 498.85M475.70 519.38L614.40 509.22M475.70 521.22L614.40 521.32M475.70 523.05L614.40 497.12" stroke="#0433ff" stroke-width="2.9" fill="none"/>
<text x="345.5" y="676.1" text-anchor="middle" font-size="23.5" font-weight="bold">n = 33</text>
</svg>
</body></html>
